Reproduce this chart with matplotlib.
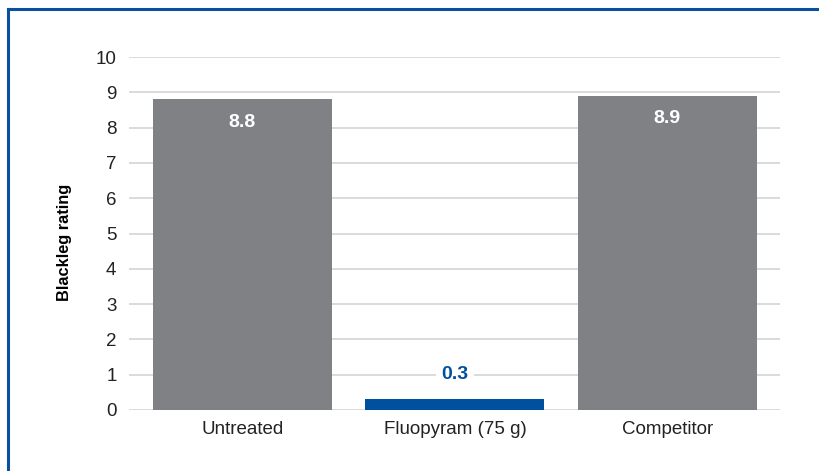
import numpy as np
import matplotlib.pyplot as plt
from matplotlib.lines import Line2D

plt.rcParams['font.family'] = ['Liberation Sans', 'DejaVu Sans']

treatments = ['Untreated', 'Fluopyram (75 g)', 'Competitor']
ratings = [8.8, 0.3, 8.9]
yticks = [0, 1, 2, 3, 4, 5, 6, 7, 8, 9, 10]

grey = '#808184'
blue = '#0050a0'
colors = [grey, blue, grey]

fig = plt.figure(figsize=(8.19, 4.71), dpi=100)
ax = fig.add_axes([129/819, 1-410/471, (780-129)/819, (410-57)/471])

x = np.arange(len(treatments))
bars = ax.bar(x, ratings, width=0.843, color=colors, zorder=2)

ax.set_xlim(-0.534, 2.53)
ax.set_ylim(0, 10)
ax.set_yticks(yticks)
ax.set_xticks(x)
ax.set_xticklabels(treatments, fontsize=13.5, color='#222222')
ax.tick_params(axis='y', length=0, pad=9, labelsize=13.5, labelcolor='#222222')
ax.tick_params(axis='x', length=0, pad=8)
ax.yaxis.grid(True, color='#d8d8d8', linewidth=1.3, zorder=0)
ax.set_axisbelow(True)
for s in ax.spines.values():
    s.set_visible(False)

ax.set_ylabel('Blackleg rating', fontsize=11.8, fontweight='bold')
ax.yaxis.set_label_coords(-0.088, 0.475)

for i, (b, v) in enumerate(zip(bars, ratings)):
    if v > 2:
        ax.text(b.get_x() + b.get_width()/2, v - 0.65, f'{v:.1f}', ha='center', va='center',
                color='white', fontsize=14, fontweight='bold', zorder=3)
    else:
        ax.text(b.get_x() + b.get_width()/2, 1.0, f'{v:.1f}', ha='center', va='center',
                color=blue, fontsize=14, fontweight='bold', zorder=3,
                bbox=dict(facecolor='white', edgecolor='none', pad=4))

# blue frame on the left and top
fig.add_artist(Line2D([8/819, 8/819], [0, 1-9/471], color='#0a50a0', linewidth=2.2))
fig.add_artist(Line2D([8/819, 1], [1-9/471, 1-9/471], color='#0a50a0', linewidth=2.2))

fig.savefig('out.png', dpi=100)
